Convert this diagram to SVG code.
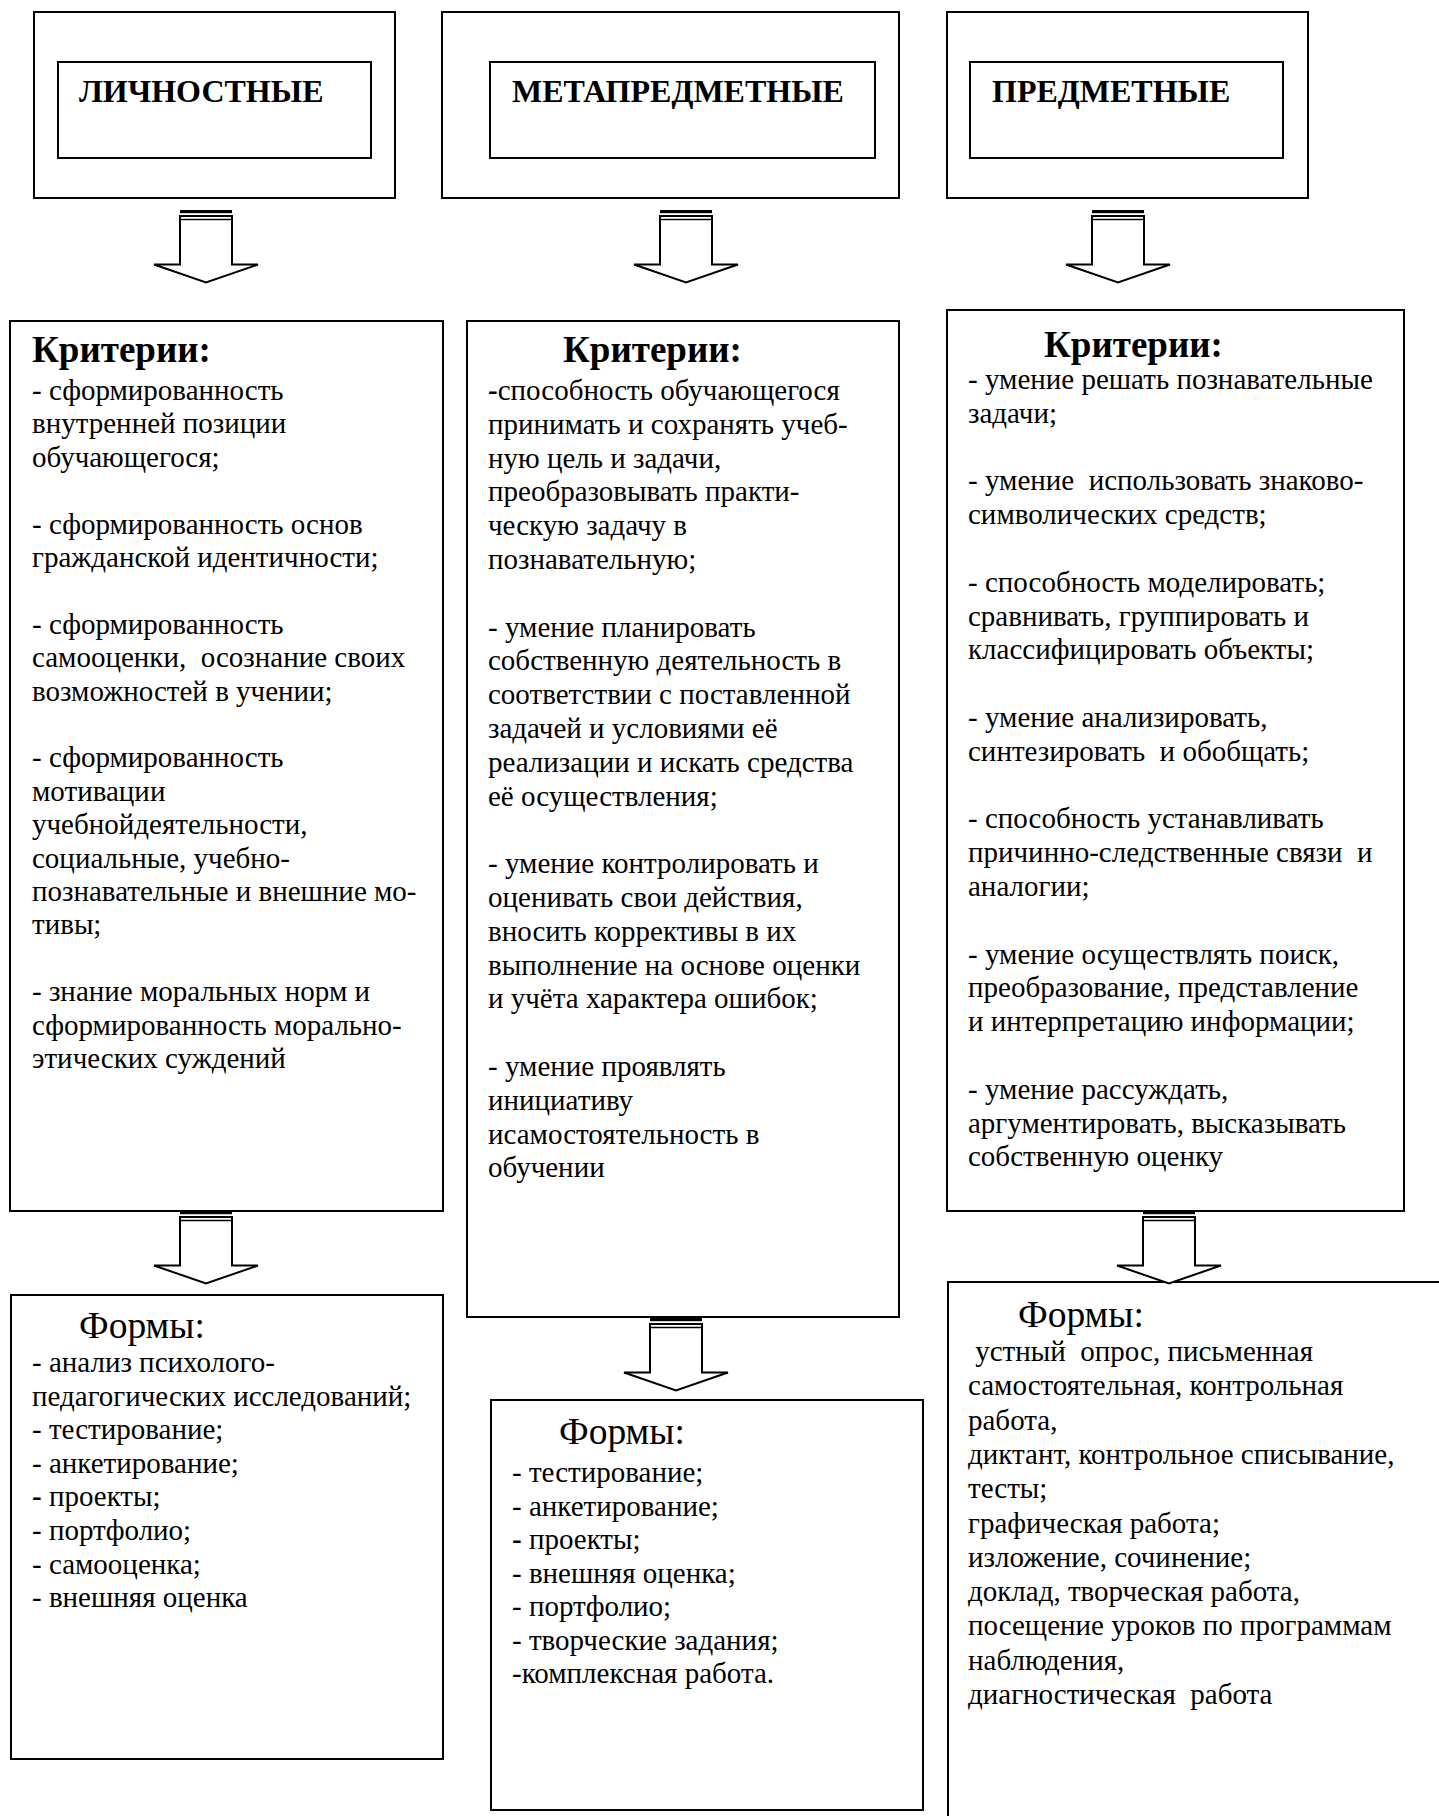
<svg xmlns="http://www.w3.org/2000/svg" xmlns:xlink="http://www.w3.org/1999/xlink" width="1439" height="1816" viewBox="0 0 1439 1816">
<style>
  .box { fill: #fff; stroke: #000; stroke-width: 2; }
  .title { font-family: "Liberation Serif", "Times New Roman", serif; font-weight: bold; font-size: 32px; fill: #000; }
  .head { font-family: "Liberation Serif", "Times New Roman", serif; font-weight: bold; font-size: 37px; fill: #000; }
  .forms { font-family: "Liberation Serif", "Times New Roman", serif; font-size: 37.5px; fill: #000; }
  .body { font-family: "Liberation Serif", "Times New Roman", serif; font-size: 29px; fill: #000; white-space: pre; }
  .arr { fill: #fff; stroke: #000; stroke-width: 2; stroke-linejoin: miter; }
  .bar { fill: #000; }
  .ln { stroke: #000; stroke-width: 1.5; }
</style>
<defs>
  <g id="downArrow">
    <path class="arr" d="M-26,6 H26 V54.5 H52 L0,72.5 L-52,54.5 H-26 Z"/>
    <rect class="bar" x="-26" y="0" width="52" height="3.2"/>
    <line class="ln" x1="-26" y1="9.5" x2="26" y2="9.5"/>
  </g>
</defs>
<rect width="1439" height="1816" fill="#fff"/>

<g id="node-lichnostnye">
  <rect class="box" x="34" y="12" width="361" height="186"/>
  <rect class="box" x="58" y="62" width="313" height="96"/>
  <text class="title" x="79" y="102">ЛИЧНОСТНЫЕ</text>
</g>
<g id="node-metapredmetnye">
  <rect class="box" x="442" y="12" width="457" height="186"/>
  <rect class="box" x="490" y="62" width="385" height="96"/>
  <text class="title" x="512" y="102">МЕТАПРЕДМЕТНЫЕ</text>
</g>
<g id="node-predmetnye">
  <rect class="box" x="947" y="12" width="361" height="186"/>
  <rect class="box" x="970" y="62" width="313" height="96"/>
  <text class="title" x="992" y="102">ПРЕДМЕТНЫЕ</text>
</g>

<g id="node-criteria-1">
  <rect class="box" x="10" y="321" width="433" height="890"/>
  <text class="head" x="32" y="362">Критерии:</text>
  <text class="body">
    <tspan x="32" y="400">- сформированность</tspan>
    <tspan x="32" y="433.4">внутренней позиции</tspan>
    <tspan x="32" y="466.8">обучающегося;</tspan>
    <tspan x="32" y="533.6">- сформированность основ</tspan>
    <tspan x="32" y="567">гражданской идентичности;</tspan>
    <tspan x="32" y="633.8">- сформированность</tspan>
    <tspan x="32" y="667.2">самооценки,  осознание своих</tspan>
    <tspan x="32" y="700.6">возможностей в учении;</tspan>
    <tspan x="32" y="767.4">- сформированность</tspan>
    <tspan x="32" y="800.8">мотивации</tspan>
    <tspan x="32" y="834.2">учебнойдеятельности,</tspan>
    <tspan x="32" y="867.6">социальные, учебно-</tspan>
    <tspan x="32" y="901">познавательные и внешние мо-</tspan>
    <tspan x="32" y="934.4">тивы;</tspan>
    <tspan x="32" y="1001.2">- знание моральных норм и</tspan>
    <tspan x="32" y="1034.6">сформированность морально-</tspan>
    <tspan x="32" y="1068">этических суждений</tspan>
  </text>
</g>

<g id="node-criteria-2">
  <rect class="box" x="467" y="321" width="432" height="996"/>
  <text class="head" x="563" y="362">Критерии:</text>
  <text class="body">
    <tspan x="488" y="400"><tspan font-weight="bold">-</tspan>способность обучающегося</tspan>
    <tspan x="488" y="433.8">принимать и сохранять учеб-</tspan>
    <tspan x="488" y="467.6">ную цель и задачи,</tspan>
    <tspan x="488" y="501.4">преобразовывать практи-</tspan>
    <tspan x="488" y="535.2">ческую задачу в</tspan>
    <tspan x="488" y="569">познавательную;</tspan>
    <tspan x="488" y="636.6">- умение планировать</tspan>
    <tspan x="488" y="670.4">собственную деятельность в</tspan>
    <tspan x="488" y="704.2">соответствии с поставленной</tspan>
    <tspan x="488" y="738">задачей и условиями её</tspan>
    <tspan x="488" y="771.8">реализации и искать средства</tspan>
    <tspan x="488" y="805.6">её осуществления;</tspan>
    <tspan x="488" y="873.2">- умение контролировать и</tspan>
    <tspan x="488" y="907">оценивать свои действия,</tspan>
    <tspan x="488" y="940.8">вносить коррективы в их</tspan>
    <tspan x="488" y="974.6">выполнение на основе оценки</tspan>
    <tspan x="488" y="1008.4">и учёта характера ошибок;</tspan>
    <tspan x="488" y="1076">- умение проявлять</tspan>
    <tspan x="488" y="1109.8">инициативу</tspan>
    <tspan x="488" y="1143.6">исамостоятельность в</tspan>
    <tspan x="488" y="1177.4">обучении</tspan>
  </text>
</g>

<g id="node-criteria-3">
  <rect class="box" x="947" y="310" width="457" height="901"/>
  <text class="head" x="1044" y="357">Критерии:</text>
  <text class="body">
    <tspan x="968" y="389">- умение решать познавательные</tspan>
    <tspan x="968" y="422.8">задачи;</tspan>
    <tspan x="968" y="490.4">- умение  использовать знаково-</tspan>
    <tspan x="968" y="524.2">символических средств;</tspan>
    <tspan x="968" y="591.8">- способность моделировать;</tspan>
    <tspan x="968" y="625.6">сравнивать, группировать и</tspan>
    <tspan x="968" y="659.4">классифицировать объекты;</tspan>
    <tspan x="968" y="727">- умение анализировать,</tspan>
    <tspan x="968" y="760.8">синтезировать  и обобщать;</tspan>
    <tspan x="968" y="828.4">- способность устанавливать</tspan>
    <tspan x="968" y="862.2">причинно-следственные связи  и</tspan>
    <tspan x="968" y="896">аналогии;</tspan>
    <tspan x="968" y="963.6">- умение осуществлять поиск,</tspan>
    <tspan x="968" y="997.4">преобразование, представление</tspan>
    <tspan x="968" y="1031.2">и интерпретацию информации;</tspan>
    <tspan x="968" y="1098.8">- умение рассуждать,</tspan>
    <tspan x="968" y="1132.6">аргументировать, высказывать</tspan>
    <tspan x="968" y="1166.4">собственную оценку</tspan>
  </text>
</g>

<g id="node-forms-1">
  <rect class="box" x="11" y="1295" width="432" height="464"/>
  <text class="forms" x="79" y="1338">Формы:</text>
  <text class="body">
    <tspan x="32" y="1372">- анализ психолого-</tspan>
    <tspan x="32" y="1405.6">педагогических исследований;</tspan>
    <tspan x="32" y="1439.2">- тестирование;</tspan>
    <tspan x="32" y="1472.8">- анкетирование;</tspan>
    <tspan x="32" y="1506.4"><tspan font-weight="bold">-</tspan> проекты;</tspan>
    <tspan x="32" y="1540">- портфолио;</tspan>
    <tspan x="32" y="1573.6">- самооценка;</tspan>
    <tspan x="32" y="1607.2">- внешняя оценка</tspan>
  </text>
</g>

<g id="node-forms-2">
  <rect class="box" x="491" y="1400" width="432" height="410"/>
  <text class="forms" x="559" y="1444">Формы:</text>
  <text class="body">
    <tspan x="512" y="1482">- тестирование;</tspan>
    <tspan x="512" y="1515.5">- анкетирование;</tspan>
    <tspan x="512" y="1549"><tspan font-weight="bold">-</tspan> проекты;</tspan>
    <tspan x="512" y="1582.5">- внешняя оценка;</tspan>
    <tspan x="512" y="1616">- портфолио;</tspan>
    <tspan x="512" y="1649.5">- творческие задания;</tspan>
    <tspan x="512" y="1683">-комплексная работа.</tspan>
  </text>
</g>

<g id="node-forms-3">
  <rect class="box" x="948" y="1282" width="520" height="560"/>
  <text class="forms" x="1018" y="1327">Формы:</text>
  <text class="body">
    <tspan x="968" y="1361"> устный  опрос, письменная</tspan>
    <tspan x="968" y="1395.3">самостоятельная, контрольная</tspan>
    <tspan x="968" y="1429.6">работа,</tspan>
    <tspan x="968" y="1463.9">диктант, контрольное списывание,</tspan>
    <tspan x="968" y="1498.2">тесты;</tspan>
    <tspan x="968" y="1532.5">графическая работа;</tspan>
    <tspan x="968" y="1566.8">изложение, сочинение;</tspan>
    <tspan x="968" y="1601.1">доклад, творческая работа,</tspan>
    <tspan x="968" y="1635.4">посещение уроков по программам</tspan>
    <tspan x="968" y="1669.7">наблюдения,</tspan>
    <tspan x="968" y="1704">диагностическая  работа</tspan>
  </text>
</g>

<g id="connectors">
  <use xlink:href="#downArrow" href="#downArrow" transform="translate(206,210)"/>
  <use xlink:href="#downArrow" href="#downArrow" transform="translate(686,210)"/>
  <use xlink:href="#downArrow" href="#downArrow" transform="translate(1118,210)"/>
  <use xlink:href="#downArrow" href="#downArrow" transform="translate(206,1211)"/>
  <use xlink:href="#downArrow" href="#downArrow" transform="translate(676,1318)"/>
  <use xlink:href="#downArrow" href="#downArrow" transform="translate(1169,1211)"/>
</g>
</svg>
